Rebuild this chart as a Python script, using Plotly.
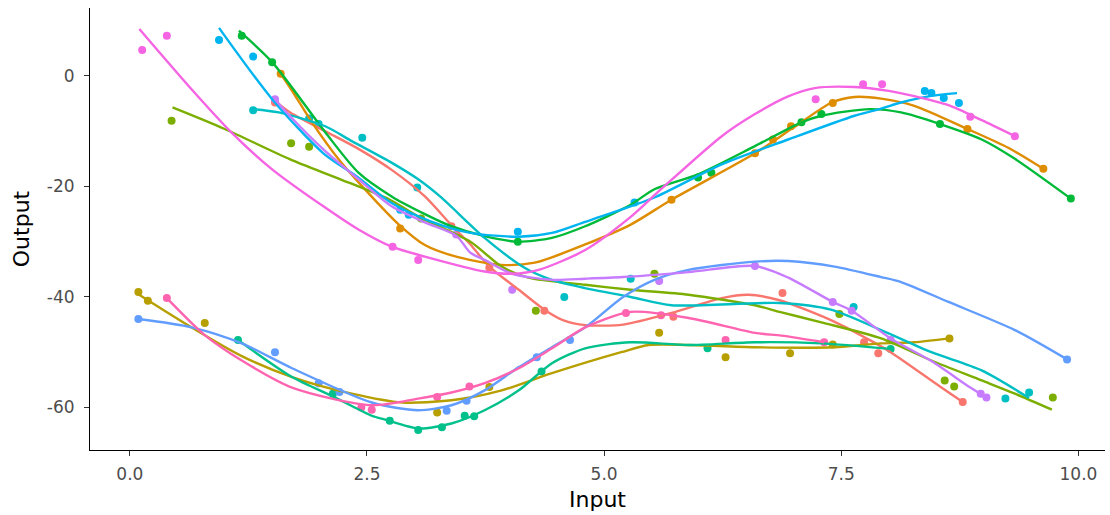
import plotly.graph_objects as go

# ---- group colours (ggplot hue palette, 12 groups) ----
group_names = ["1", "2", "3", "4", "5", "6", "7", "8", "9", "10", "11", "12"]
group_colors = ["#F8766D", "#DE8C00", "#B79F00", "#7CAE00", "#00BA38", "#00C08B",
                "#00BFC4", "#00B4F0", "#619CFF", "#C77CFF", "#F564E3", "#FF64B0"]

# ---- observed points ----
red_pt_x = [1.53, 3.39, 3.79, 4.37, 5.73, 6.88, 7.74, 7.89, 8.78]
red_pt_y = [-4.8, -27.2, -34.7, -42.5, -43.6, -39.3, -48.2, -50.2, -59.0]
orange_pt_x = [1.59, 2.85, 5.71, 6.59, 6.78, 6.97, 7.41, 8.83, 9.63]
orange_pt_y = [0.4, -27.6, -22.4, -14.0, -11.5, -9.1, -4.9, -9.6, -16.8]
darkolive_pt_x = [0.09, 0.19, 0.79, 3.24, 3.79, 5.58, 6.28, 6.96, 7.41, 8.64]
darkolive_pt_y = [-39.1, -40.7, -44.7, -60.9, -56.3, -46.5, -50.9, -50.2, -48.6, -47.5]
olive_pt_x = [0.44, 1.70, 1.89, 3.07, 4.28, 5.53, 7.48, 8.59, 8.69, 9.73]
olive_pt_y = [-8.1, -12.2, -12.8, -25.8, -42.5, -35.8, -43.1, -55.1, -56.2, -58.2]
green_pt_x = [1.18, 1.50, 4.09, 5.99, 6.13, 7.08, 7.29, 8.54, 9.92]
green_pt_y = [7.3, 2.5, -30.0, -18.4, -17.5, -8.4, -6.9, -8.7, -22.2]
tealgreen_pt_x = [1.14, 2.14, 2.74, 3.04, 3.29, 3.53, 3.63, 4.34, 6.09, 8.02]
tealgreen_pt_y = [-47.8, -57.5, -62.4, -64.1, -63.6, -61.5, -61.6, -53.5, -49.3, -49.4]
teal_pt_x = [1.30, 1.89, 1.99, 2.45, 3.03, 4.58, 5.28, 7.63, 9.23, 9.48]
teal_pt_y = [-6.2, -7.7, -8.7, -11.2, -20.2, -40.0, -36.7, -41.8, -58.4, -57.3]
blue_pt_x = [0.94, 1.30, 2.85, 2.94, 4.09, 5.32, 8.38, 8.45, 8.58, 8.74]
blue_pt_y = [6.5, 3.5, -24.2, -25.1, -28.2, -22.9, -2.7, -3.1, -4.0, -4.9]
periwinkle_pt_x = [0.09, 1.53, 1.99, 2.21, 3.34, 3.55, 4.29, 4.64, 9.88]
periwinkle_pt_y = [-44.0, -50.0, -55.6, -57.2, -60.6, -58.8, -50.9, -47.8, -51.3]
purple_pt_x = [1.53, 3.44, 4.03, 5.58, 6.59, 7.41, 7.61, 8.02, 8.97, 9.03]
purple_pt_y = [-4.2, -28.7, -38.7, -37.1, -34.4, -40.9, -42.5, -47.8, -57.5, -58.2]
magenta_pt_x = [0.13, 0.39, 2.77, 3.04, 7.23, 7.73, 7.93, 8.86, 9.33]
magenta_pt_y = [4.7, 7.3, -30.9, -33.3, -4.2, -1.5, -1.5, -7.4, -10.9]
pink_pt_x = [0.39, 2.44, 2.55, 3.24, 3.58, 5.23, 5.60, 6.28, 7.32]
pink_pt_y = [-40.2, -60.0, -60.4, -58.1, -56.2, -42.9, -43.3, -47.8, -48.2]

# ---- smoothed curves ----
red_ln_x = [1.53, 1.69, 2.06, 2.41, 2.76, 3.11, 3.39, 3.59, 3.79, 4.1, 4.37, 4.58, 4.8, 5.2,
            5.71, 6.24, 6.52, 6.85, 7.43, 7.82, 8.02, 8.54, 8.78]
red_ln_y = [-4.5, -6.6, -10.0, -13.2, -17.0, -21.8, -27.0, -30.5, -34.5, -38.7, -42.3, -44.3,
            -45.1, -45.0, -42.9, -40.2, -39.6, -40.6, -44.5, -48.0, -50.0, -56.2, -59.0]
orange_ln_x = [1.59, 1.70, 1.92, 2.22, 2.52, 2.83, 3.11, 3.46, 3.92, 4.27, 4.8, 5.28, 5.71,
               6.59, 7.0, 7.4, 7.64, 7.92, 8.27, 8.83, 9.26, 9.63]
orange_ln_y = [0.4, -2.4, -8.4, -15.5, -21.3, -26.8, -30.6, -32.8, -34.2, -33.8, -30.5, -26.9,
               -22.4, -14.0, -9.3, -4.8, -3.8, -4.1, -5.4, -9.6, -13.0, -16.8]
darkolive_ln_x = [0.09, 0.65, 1.18, 1.71, 2.34, 2.87, 3.39, 3.92, 4.45, 5.18, 5.47, 5.89,
                  6.59, 7.43, 7.92, 8.27, 8.64]
darkolive_ln_y = [-39.5, -45.5, -50.7, -54.5, -57.5, -59.1, -58.7, -56.9, -53.8, -50.0, -48.7,
                  -48.7, -49.1, -49.1, -48.4, -48.2, -47.5]
olive_ln_x = [0.45, 1.0, 1.69, 2.22, 2.74, 3.06, 3.59, 3.92, 4.2, 4.8, 5.28, 5.89, 6.59, 6.85,
              7.29, 7.92, 8.45, 8.98, 9.33, 9.72]
olive_ln_y = [-5.7, -9.6, -15.1, -18.7, -22.4, -25.6, -30.0, -34.5, -36.5, -37.8, -38.7, -39.6,
              -41.5, -42.7, -44.6, -47.5, -51.5, -55.1, -57.5, -60.4]
green_ln_x = [1.15, 1.50, 2.06, 2.41, 2.76, 3.11, 3.39, 3.74, 4.09, 4.45, 4.8, 5.28, 5.53,
              5.99, 6.59, 7.08, 7.29, 7.80, 8.13, 8.54, 8.98, 9.33, 9.92]
green_ln_y = [8.2, 2.5, -10.2, -17.5, -21.8, -25.0, -27.2, -29.0, -30.0, -29.3, -27.2, -23.3,
              -20.5, -17.8, -12.7, -8.4, -7.2, -6.0, -6.6, -8.7, -11.5, -15.0, -22.2]
tealgreen_ln_x = [1.14, 1.71, 2.14, 2.55, 2.69, 3.04, 3.39, 3.74, 4.1, 4.45, 4.8, 5.28, 5.89,
                  6.59, 7.29, 8.02]
tealgreen_ln_y = [-47.8, -54.5, -58.0, -61.5, -62.2, -63.8, -62.9, -60.5, -56.9, -52.0, -49.3,
                  -48.2, -48.7, -48.2, -48.4, -49.4]
teal_ln_x = [1.30, 1.57, 2.06, 2.34, 2.74, 3.04, 3.27, 3.74, 4.16, 4.45, 4.8, 5.28, 5.71, 6.85,
             7.39, 7.92, 8.45, 8.98, 9.48]
teal_ln_y = [-6.0, -6.6, -9.1, -11.8, -15.5, -18.7, -21.8, -29.3, -34.7, -36.9, -38.4, -40.0,
             -41.5, -41.1, -42.3, -46.0, -50.0, -53.3, -58.3]
blue_ln_x = [0.94, 1.50, 2.04, 2.41, 2.76, 3.17, 3.59, 4.1, 4.45, 4.8, 5.18, 5.53, 6.24, 6.94,
             7.64, 7.92, 8.13, 8.45, 8.72]
blue_ln_y = [8.7, -4.2, -14.0, -18.4, -23.0, -26.3, -28.4, -29.1, -28.4, -26.4, -24.2, -22.0,
             -16.0, -11.5, -7.2, -5.9, -4.8, -3.6, -3.1]
periwinkle_ln_x = [0.09, 0.65, 1.18, 1.71, 2.55, 3.04, 3.39, 3.74, 4.1, 4.45, 4.8, 5.2, 5.53,
                   5.89, 6.59, 6.94, 7.43, 7.92, 8.13, 8.63, 9.33, 9.88]
periwinkle_ln_y = [-44.0, -45.5, -48.4, -52.9, -59.1, -60.5, -59.6, -56.9, -52.7, -49.1, -45.5,
                   -40.0, -36.9, -35.1, -33.6, -33.5, -34.5, -36.4, -37.3, -40.9, -46.0, -51.3]
purple_ln_x = [1.53, 1.69, 2.04, 2.41, 2.76, 3.11, 3.44, 3.59, 3.74, 4.03, 4.45, 4.8, 5.2, 5.89,
               6.59, 6.94, 7.41, 7.61, 8.02, 8.45, 8.86, 9.03]
purple_ln_y = [-4.2, -7.3, -13.3, -18.7, -23.6, -26.5, -28.9, -32.0, -33.3, -35.8, -36.9, -36.7,
               -36.4, -35.5, -34.4, -36.5, -40.9, -42.5, -47.5, -51.6, -56.4, -58.2]
magenta_ln_x = [0.1, 0.65, 1.07, 1.5, 2.04, 2.41, 2.76, 3.11, 3.74, 4.03, 4.31, 4.8, 5.28, 5.6,
                6.24, 6.59, 6.94, 7.22, 7.64, 8.0, 8.28, 8.63, 8.98, 9.33]
magenta_ln_y = [8.5, -2.4, -10.2, -16.9, -23.6, -27.8, -30.9, -32.7, -35.4, -35.8, -35.1, -31.5,
                -25.5, -20.5, -10.9, -6.9, -3.7, -2.2, -2.0, -2.7, -3.7, -5.3, -8.0, -10.9]
pink_ln_x = [0.39, 0.79, 1.18, 1.71, 2.55, 3.04, 3.39, 3.74, 4.1, 4.45, 4.8, 5.28, 5.89, 6.59,
             6.87, 7.32]
pink_ln_y = [-40.2, -46.9, -51.5, -56.4, -59.6, -58.4, -57.3, -55.6, -52.9, -49.3, -45.5, -42.7,
             -43.8, -46.5, -47.0, -48.2]

x_ticks = [0.0, 2.5, 5.0, 7.5, 10.0]
x_tick_labels = ["0.0", "2.5", "5.0", "7.5", "10.0"]
y_ticks = [0, -20, -40, -60]
y_tick_labels = ["0", "-20", "-40", "-60"]

points = [(red_pt_x, red_pt_y), (orange_pt_x, orange_pt_y), (darkolive_pt_x, darkolive_pt_y),
          (olive_pt_x, olive_pt_y), (green_pt_x, green_pt_y), (tealgreen_pt_x, tealgreen_pt_y),
          (teal_pt_x, teal_pt_y), (blue_pt_x, blue_pt_y), (periwinkle_pt_x, periwinkle_pt_y),
          (purple_pt_x, purple_pt_y), (magenta_pt_x, magenta_pt_y), (pink_pt_x, pink_pt_y)]
curves = [(red_ln_x, red_ln_y), (orange_ln_x, orange_ln_y), (darkolive_ln_x, darkolive_ln_y),
          (olive_ln_x, olive_ln_y), (green_ln_x, green_ln_y), (tealgreen_ln_x, tealgreen_ln_y),
          (teal_ln_x, teal_ln_y), (blue_ln_x, blue_ln_y), (periwinkle_ln_x, periwinkle_ln_y),
          (purple_ln_x, purple_ln_y), (magenta_ln_x, magenta_ln_y), (pink_ln_x, pink_ln_y)]

fig = go.Figure()
for name, col, (px, py) in zip(group_names, group_colors, points):
    fig.add_trace(go.Scatter(x=px, y=py, mode="markers", name=name, showlegend=False,
                             marker=dict(color=col, size=8, line=dict(width=0))))
for name, col, (lx, ly) in zip(group_names, group_colors, curves):
    fig.add_trace(go.Scatter(x=lx, y=ly, mode="lines", name=name, showlegend=False,
                             line=dict(color=col, width=2.4, shape="spline", smoothing=0.75)))

axis_font = dict(family="DejaVu Sans", size=17, color="#4D4D4D")
title_font = dict(family="DejaVu Sans", size=22, color="#000000")

fig.update_layout(
    width=1110, height=515,
    margin=dict(l=90, r=5, t=8, b=65),
    paper_bgcolor="white", plot_bgcolor="white",
    xaxis=dict(range=[-0.42, 10.28], tickvals=x_ticks, ticktext=x_tick_labels,
               showgrid=False, zeroline=False, showline=True, linecolor="#000000", linewidth=1,
               ticks="outside", ticklen=5, tickwidth=1, tickcolor="#333333",
               tickfont=axis_font, ticklabelstandoff=4,
               title=dict(text="Input", font=title_font, standoff=8)),
    yaxis=dict(range=[-67.7, 12.3], tickvals=y_ticks, ticktext=y_tick_labels,
               showgrid=False, zeroline=False, showline=True, linecolor="#000000", linewidth=1,
               ticks="outside", ticklen=5, tickwidth=1, tickcolor="#333333",
               tickfont=axis_font, ticklabelstandoff=6,
               title=dict(text="Output", font=title_font, standoff=11)),
)

fig.write_html("out.html")
